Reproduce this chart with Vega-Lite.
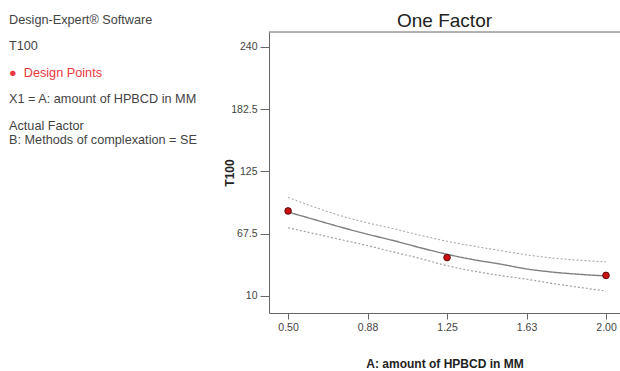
{
  "$schema": "https://vega.github.io/schema/vega-lite/v6.json",
  "padding": {"left": 9, "top": 11, "right": 0, "bottom": 0},
  "background": "white",
  "bounds": "flush",
  "spacing": 0,
  "resolve": {"scale": {"color": "independent", "x": "independent", "y": "independent"}},
  "config": {"view": {"stroke": null}, "font": "Liberation Sans"},
  "datasets": {
    "info": [
      {"line": 1, "role": "info", "label": "Design-Expert® Software"},
      {"line": 2, "role": "info", "label": "T100"},
      {"line": 3, "role": "legend", "label": "\u00a0\u00a0●\u00a0\u00a0Design Points"},
      {"line": 4, "role": "info", "label": "X1 = A: amount of HPBCD in MM"},
      {"line": 5, "role": "info", "label": "Actual Factor\nB: Methods of complexation = SE"}
    ],
    "frame": [{"edge": "top"}],
    "curve": [
      {"x": 0.5, "fit": 87.5, "lo": 73, "hi": 101},
      {"x": 0.625, "fit": 80.5, "lo": 67.5, "hi": 92},
      {"x": 0.75, "fit": 73.5, "lo": 62, "hi": 84},
      {"x": 0.875, "fit": 67, "lo": 56.5, "hi": 77.5},
      {"x": 1.0, "fit": 61, "lo": 50.5, "hi": 72},
      {"x": 1.125, "fit": 54.5, "lo": 44.5, "hi": 66},
      {"x": 1.25, "fit": 48.5, "lo": 38, "hi": 60.5},
      {"x": 1.375, "fit": 43.5, "lo": 33, "hi": 56},
      {"x": 1.5, "fit": 39.5, "lo": 29, "hi": 52},
      {"x": 1.625, "fit": 35, "lo": 25.5, "hi": 48},
      {"x": 1.75, "fit": 32, "lo": 21.5, "hi": 45},
      {"x": 1.875, "fit": 30, "lo": 18, "hi": 43},
      {"x": 2.0, "fit": 28.5, "lo": 14.5, "hi": 41.5}
    ],
    "runs": [
      {"x": 0.5, "t100": 88.5},
      {"x": 1.25, "t100": 45.5},
      {"x": 2.0, "t100": 29}
    ]
  },
  "hconcat": [
    {
      "width": 260,
      "height": 281,
      "data": {"name": "info"},
      "mark": {"type": "text", "align": "left", "baseline": "alphabetic", "fontSize": 12.7, "lineBreak": "\n", "lineHeight": 13.7},
      "encoding": {
        "x": {"datum": 0, "type": "quantitative", "scale": {"domain": [0, 1]}, "axis": null},
        "y": {"field": "line", "type": "quantitative", "scale": {"domain": [1.312, 11.884], "reverse": true, "nice": false, "zero": false}, "axis": null},
        "text": {"field": "label"},
        "color": {"field": "role", "type": "nominal", "scale": {"domain": ["info", "legend"], "range": ["#444444", "#e8383d"]}, "legend": null}
      }
    },
    {
      "width": 351,
      "height": 281,
      "title": {"text": "One Factor", "fontSize": 19, "fontWeight": "normal", "color": "#222222", "baseline": "alphabetic", "offset": -14},
      "layer": [
        {
          "data": {"name": "frame"},
          "mark": {"type": "rule", "color": "#666666", "strokeWidth": 1},
          "encoding": {
            "y": {"datum": 253.7, "type": "quantitative", "scale": {"domain": [-5.7, 253.7], "nice": false, "zero": false},
              "axis": {"title": "T100", "values": [10, 67.5, 125, 182.5, 240], "format": ".4~g", "grid": false, "domainColor": "#666666", "tickColor": "#666666", "tickSize": 9, "labelPadding": 3, "labelFontSize": 10.5, "labelColor": "#444444", "titleFontSize": 12, "titleFontWeight": "bold", "titleColor": "#222222", "titlePadding": -6}}
          }
        },
        {
          "data": {"name": "curve"},
          "transform": [{"fold": ["fit", "lo", "hi"], "as": ["series", "value"]}],
          "mark": {"type": "line", "interpolate": "monotone"},
          "encoding": {
            "x": {"field": "x", "type": "quantitative", "scale": {"domain": [0.41, 2.066], "nice": false, "zero": false},
              "axis": {"title": "A: amount of HPBCD in MM", "values": [0.5, 0.875, 1.25, 1.625, 2.0], "format": ".2f", "grid": false, "domainColor": "#666666", "tickColor": "#666666", "tickSize": 6, "labelPadding": 3, "labelFontSize": 10.5, "labelColor": "#444444", "titleFontSize": 12, "titleFontWeight": "bold", "titleColor": "#222222", "titlePadding": 26}},
            "y": {"field": "value", "type": "quantitative", "scale": {"domain": [-5.7, 253.7], "nice": false, "zero": false},
              "axis": {"title": "T100", "values": [10, 67.5, 125, 182.5, 240], "format": ".4~g", "grid": false, "domainColor": "#666666", "tickColor": "#666666", "tickSize": 9, "labelPadding": 3, "labelFontSize": 10.5, "labelColor": "#444444", "titleFontSize": 12, "titleFontWeight": "bold", "titleColor": "#222222", "titlePadding": -6}},
            "detail": {"field": "series"},
            "color": {"field": "series", "type": "nominal", "scale": {"domain": ["fit", "lo", "hi"], "range": ["#808080", "#a0a0a0", "#a0a0a0"]}, "legend": null},
            "strokeDash": {"field": "series", "type": "nominal", "scale": {"domain": ["fit", "lo", "hi"], "range": [[1, 0], [2, 2], [2, 2]]}, "legend": null},
            "strokeWidth": {"field": "series", "type": "nominal", "scale": {"domain": ["fit", "lo", "hi"], "range": [1.4, 1, 1]}, "legend": null}
          }
        },
        {
          "data": {"name": "runs"},
          "mark": {"type": "point", "filled": true, "size": 45, "color": "#cc1111", "stroke": "#440000", "strokeWidth": 0.8, "opacity": 1},
          "encoding": {
            "x": {"field": "x", "type": "quantitative", "scale": {"domain": [0.41, 2.066], "nice": false, "zero": false},
              "axis": {"title": "A: amount of HPBCD in MM", "values": [0.5, 0.875, 1.25, 1.625, 2.0], "format": ".2f", "grid": false, "domainColor": "#666666", "tickColor": "#666666", "tickSize": 6, "labelPadding": 3, "labelFontSize": 10.5, "labelColor": "#444444", "titleFontSize": 12, "titleFontWeight": "bold", "titleColor": "#222222", "titlePadding": 26}},
            "y": {"field": "t100", "type": "quantitative", "scale": {"domain": [-5.7, 253.7], "nice": false, "zero": false},
              "axis": {"title": "T100", "values": [10, 67.5, 125, 182.5, 240], "format": ".4~g", "grid": false, "domainColor": "#666666", "tickColor": "#666666", "tickSize": 9, "labelPadding": 3, "labelFontSize": 10.5, "labelColor": "#444444", "titleFontSize": 12, "titleFontWeight": "bold", "titleColor": "#222222", "titlePadding": -6}}
          }
        }
      ]
    }
  ]
}
